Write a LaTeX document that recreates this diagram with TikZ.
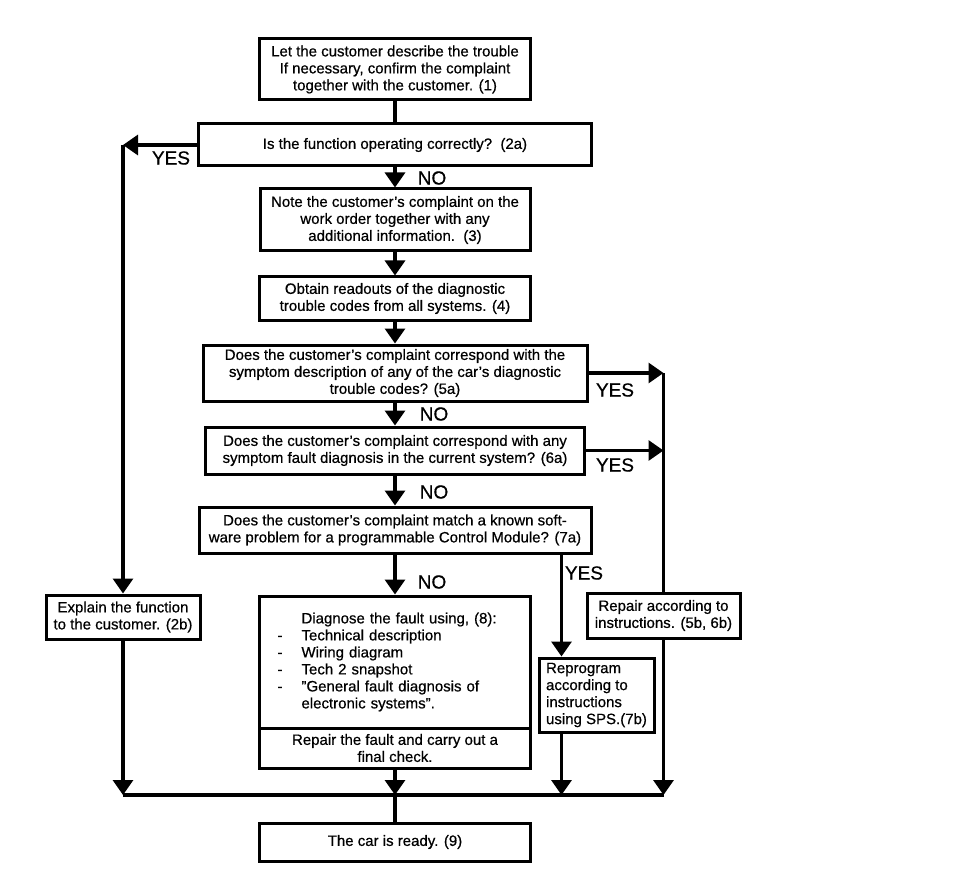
\documentclass[tikz,border=0pt]{standalone}
\usepackage{fontspec}
\setmainfont{Liberation Sans}[FakeBold=0.6]
\usetikzlibrary{arrows.meta}

\begin{document}
\begin{tikzpicture}[x=1pt, y=-1pt,
  box/.style={draw, line width=3pt, align=center, inner sep=4pt,
    font=\fontsize{15}{17}\selectfont},
  arr/.style={line width=3.2pt, -{Triangle[width=20pt,length=15pt]}},
  wire/.style={line width=3.2pt},
  lbl/.style={font=\fontsize{19}{19}\selectfont, inner sep=0pt}]
\useasboundingbox (0,0) rectangle (960,874);

% Main column (centres on x = 395)
\node[box, minimum width=271pt, minimum height=61pt] (tell) at (395,69.5)
  {Let the customer describe the trouble\\If necessary, confirm the complaint\\together with the customer. (1)};
\node[box, minimum width=393pt, minimum height=42pt] (q2a) at (395,145)
  {Is the function operating correctly?\ \ (2a)};
\node[box, minimum width=270pt, minimum height=62pt] (note) at (395,220)
  {Note the customer’s complaint on the\\work order together with any\\additional information.\ \ (3)};
\node[box, minimum width=271pt, minimum height=43pt] (read) at (395,298.5)
  {Obtain readouts of the diagnostic\\trouble codes from all systems. (4)};
\node[box, minimum width=384pt, minimum height=56pt] (q5) at (395,373)
  {Does the customer’s complaint correspond with the\\symptom description of any of the car’s diagnostic\\trouble codes? (5a)};
\node[box, minimum width=379pt, minimum height=47pt] (q6) at (395,450.5)
  {Does the customer’s complaint correspond with any\\symptom fault diagnosis in the current system? (6a)};
\node[box, minimum width=392pt, minimum height=46pt] (q7) at (395,530)
  {Does the customer’s complaint match a known soft-\\ware problem for a programmable Control Module? (7a)};
\node[box, align=left, text width=235pt, inner xsep=18pt, minimum height=132pt] (diag) at (395,662)
  {\hspace*{24pt}Diagnose the fault using, (8):\\
   \makebox[24pt][l]{-}Technical description\\
   \makebox[24pt][l]{-}Wiring diagram\\
   \makebox[24pt][l]{-}Tech 2 snapshot\\
   \makebox[24pt][l]{-}\char"22 General fault diagnosis of\\
   \hspace*{24pt}electronic systems\char"22 .};
\node[box, minimum width=271pt, minimum height=40pt] (fix) at (395,748)
  {Repair the fault and carry out a\\final check.};
\node[box, minimum width=271pt, minimum height=38pt] (ready) at (395,842)
  {The car is ready. (9)};

% Side boxes
\node[box, minimum width=154pt, minimum height=44pt, inner sep=2pt] (expl) at (123,617)
  {Explain the function\\to the customer. (2b)};
\node[box, minimum width=153pt, minimum height=45pt, inner sep=2pt] (rep) at (663.5,615.5)
  {Repair according to\\instructions. (5b, 6b)};
\node[box, align=left, minimum width=115pt, minimum height=74pt, inner sep=2pt] (repro) at (596.5,695)
  {Reprogram\\according to\\instructions\\using SPS.(7b)};

% Corners and the collecting line
\coordinate (c2) at (expl.north |- q2a.west);
\coordinate (r5) at (rep.north |- q5.east);
\coordinate (r6) at (rep.north |- q6.east);
\coordinate (bus) at (0,795);

% NO branches down the middle
\draw[wire] (tell) -- (q2a);
\draw[arr] (q2a) -- (note);
\draw[arr] (note) -- (read);
\draw[arr] (read) -- (q5);
\draw[arr] (q5) -- (q6);
\draw[arr] (q6) -- (q7);
\draw[arr] (q7) -- (diag);

% YES branches
\draw[arr] (q2a.west) -- (c2);
\draw[arr] (c2) -- (expl.north);
\draw[arr] (q5.east) -- (r5);
\draw[arr] (q6.east) -- (r6);
\draw[wire] (r5) -- (rep.north);
\draw[arr] ([xshift=-35pt]repro.north |- q7.south) -- ([xshift=-35pt]repro.north);

% Everything meets at the bottom
\draw[wire] (expl.south |- bus) -- (rep.south |- bus);
\draw[arr] (expl.south) -- (expl.south |- bus);
\draw[arr] (fix.south) -- (fix.south |- bus);
\draw[arr] ([xshift=-35pt]repro.south) -- ([xshift=-35pt]repro.south |- bus);
\draw[arr] (rep.south) -- (rep.south |- bus);
\draw[wire] (fix.south |- bus) -- (ready.north);

% YES / NO labels
\node[lbl] (yes2) at (171,158) {YES};
\node[lbl] (no2) at (432,178) {NO};
\node[lbl] (yes5) at (615,390) {YES};
\node[lbl] (no5) at (434,414) {NO};
\node[lbl] (yes6) at (615,465) {YES};
\node[lbl] (no6) at (434,492) {NO};
\node[lbl] (yes7) at (584,573) {YES};
\node[lbl] (no7) at (432,582) {NO};
\end{tikzpicture}
\end{document}
